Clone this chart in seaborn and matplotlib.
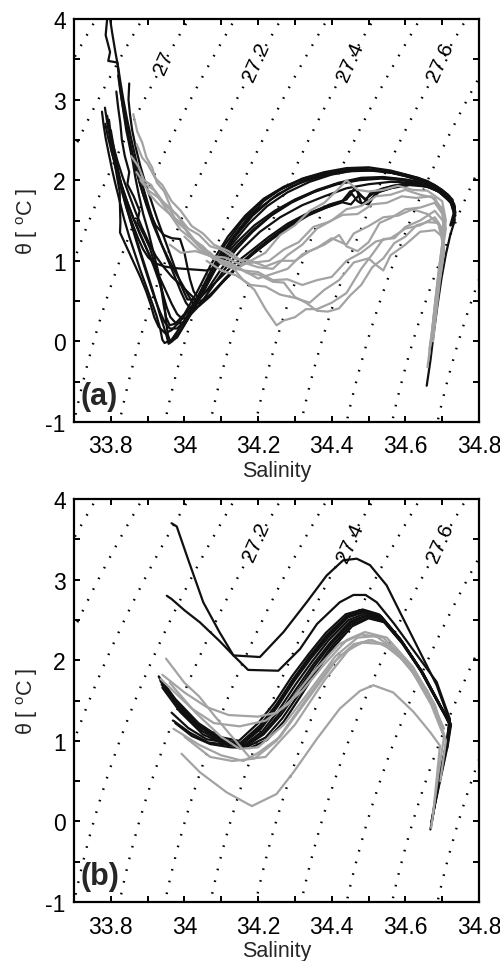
import numpy as np
import pandas as pd
import matplotlib
matplotlib.use("Agg")
import matplotlib.pyplot as plt
from matplotlib.ticker import MultipleLocator, FixedLocator, FixedFormatter
import seaborn as sns

# ------------------------------------------------------------------
# profile data (salinity, potential temperature)
# ------------------------------------------------------------------
# panel (a): CTD profiles, black and grey groups
a_black_sal = [
    [33.790, 33.786, 33.798, 33.793, 33.818, 33.822, 33.828, 33.836, 33.842, 33.852, 33.860, 33.866, 33.876, 33.888, 33.902, 33.915, 33.928, 33.938, 33.946, 33.950, 33.955, 33.962,
     33.980, 34.010, 34.045, 34.085, 34.125, 34.170, 34.215, 34.265, 34.320, 34.380, 34.440, 34.500, 34.560, 34.610, 34.660, 34.700, 34.728, 34.736, 34.726],
    [33.798, 33.804, 33.812, 33.820, 33.826, 33.834, 33.844, 33.856, 33.870, 33.886, 33.904, 33.922, 33.940, 33.958, 33.974, 33.990, 34.004, 34.018,
     34.040, 34.070, 34.105, 34.145, 34.190, 34.240, 34.290, 34.340, 34.390, 34.430, 34.455, 34.470, 34.485, 34.505, 34.540, 34.590, 34.640, 34.690, 34.722, 34.735],
    [33.776, 33.780, 33.786, 33.794, 33.803, 33.812, 33.824, 33.836, 33.850, 33.866, 33.882, 33.898, 33.912, 33.924, 33.934, 33.940, 33.946,
     33.965, 33.995, 34.030, 34.070, 34.110, 34.155, 34.200, 34.250, 34.305, 34.365, 34.425, 34.485, 34.545, 34.600, 34.650, 34.695, 34.724, 34.732, 34.722],
    [33.784, 33.790, 33.798, 33.806, 33.814, 33.820, 33.824, 33.825, 33.826, 33.825, 33.842, 33.862, 33.880, 33.896, 33.908, 33.918, 33.930, 33.948, 33.965,
     33.990, 34.020, 34.055, 34.095, 34.140, 34.190, 34.245, 34.300, 34.360, 34.420, 34.480, 34.540, 34.600, 34.650, 34.695, 34.726, 34.734],
    [33.790, 33.796, 33.806, 33.818, 33.832, 33.848, 33.866, 33.884, 33.902, 33.922, 33.944, 33.966, 33.990, 34.012, 34.030, 34.045,
     34.070, 34.100, 34.140, 34.185, 34.235, 34.285, 34.335, 34.385, 34.425, 34.450, 34.468, 34.480, 34.500, 34.520, 34.560, 34.610, 34.660, 34.700, 34.728, 34.736],
    [33.800, 33.806, 33.813, 33.821, 33.830, 33.840, 33.850, 33.862, 33.875, 33.888, 33.902, 33.920, 33.945, 33.972, 34.000, 34.030, 34.060, 34.085,
     34.110, 34.145, 34.190, 34.240, 34.295, 34.355, 34.415, 34.475, 34.535, 34.595, 34.645, 34.690, 34.722, 34.733, 34.724],
    [33.800, 33.810, 33.820, 33.830, 33.842, 33.856, 33.870, 33.884, 33.898, 33.912, 33.924, 33.934, 33.944, 33.952, 33.957, 33.966,
     33.990, 34.020, 34.055, 34.095, 34.138, 34.185, 34.235, 34.290, 34.350, 34.410, 34.470, 34.530, 34.590, 34.640, 34.685, 34.720, 34.734],
    [33.820, 33.826, 33.834, 33.843, 33.854, 33.866, 33.880, 33.896, 33.914, 33.934, 33.955, 33.975, 33.995, 34.012, 34.025,
     34.045, 34.075, 34.110, 34.150, 34.195, 34.245, 34.295, 34.345, 34.395, 34.440, 34.462, 34.490, 34.520, 34.565, 34.615, 34.665, 34.705, 34.730],
    [33.835, 33.842, 33.851, 33.862, 33.874, 33.888, 33.904, 33.922, 33.944, 33.966, 33.988, 34.000, 34.008, 34.015, 34.025, 34.040,
     34.065, 34.100, 34.140, 34.185, 34.235, 34.290, 34.350, 34.410, 34.470, 34.530, 34.590, 34.640, 34.690, 34.724, 34.734],
    [33.810, 33.822, 33.836, 33.850, 33.866, 33.883, 33.900, 33.916, 33.930, 33.942, 33.952, 33.962, 33.978, 34.000,
     34.030, 34.065, 34.105, 34.150, 34.200, 34.255, 34.315, 34.380, 34.445, 34.505, 34.565, 34.620, 34.670, 34.710, 34.733],
    [33.850, 33.848, 33.852, 33.858, 33.868, 33.880, 33.894, 33.910, 33.926, 33.942, 33.958, 33.972, 33.985, 33.996, 34.008,
     34.030, 34.060, 34.095, 34.135, 34.180, 34.230, 34.280, 34.330, 34.380, 34.425, 34.452, 34.475, 34.500, 34.530, 34.575, 34.625, 34.675, 34.712, 34.734],
    [33.795, 33.800, 33.808, 33.817, 33.828, 33.840, 33.853, 33.867, 33.882, 33.896, 33.910, 33.922, 33.934, 33.946, 33.960, 33.980,
     34.010, 34.045, 34.085, 34.128, 34.175, 34.225, 34.280, 34.340, 34.400, 34.460, 34.520, 34.580, 34.630, 34.675, 34.712, 34.732, 34.734, 34.722, 34.710, 34.698, 34.687, 34.677, 34.668, 34.658],
    [33.785, 33.792, 33.802, 33.814, 33.828, 33.844, 33.860, 33.878, 33.896, 33.914, 33.932, 33.950, 33.966, 33.980, 33.994, 34.010,
     34.035, 34.070, 34.110, 34.155, 34.205, 34.260, 34.320, 34.380, 34.440, 34.500, 34.560, 34.620, 34.670, 34.710, 34.733],
    [33.815, 33.820, 33.826, 33.830, 33.838, 33.850, 33.845, 33.862, 33.878, 33.872, 33.890, 33.906, 33.918, 33.930, 33.938, 33.944, 33.950, 33.960, 33.975,
     34.000, 34.035, 34.075, 34.118, 34.165, 34.215, 34.270, 34.330, 34.395, 34.460, 34.520, 34.580, 34.635, 34.680, 34.716, 34.734, 34.730],
]
a_black_theta = [
    [4.00, 3.80, 3.59, 3.48, 3.46, 3.28, 3.05, 2.80, 2.62, 2.40, 2.22, 2.05, 1.82, 1.58, 1.36, 1.12, 0.88, 0.66, 0.45, 0.25, 0.08, -0.01,
     0.05, 0.28, 0.58, 0.95, 1.25, 1.52, 1.74, 1.90, 2.02, 2.10, 2.15, 2.16, 2.12, 2.06, 1.99, 1.88, 1.76, 1.60, 1.45],
    [4.00, 3.82, 3.60, 3.40, 3.22, 3.00, 2.76, 2.50, 2.22, 1.94, 1.66, 1.40, 1.18, 0.98, 0.80, 0.62, 0.48, 0.40,
     0.44, 0.56, 0.74, 0.93, 1.10, 1.28, 1.45, 1.58, 1.67, 1.74, 1.83, 1.74, 1.70, 1.84, 1.90, 1.95, 1.96, 1.88, 1.76, 1.62],
    [2.85, 2.70, 2.52, 2.34, 2.14, 1.96, 1.74, 1.52, 1.30, 1.08, 0.86, 0.66, 0.48, 0.32, 0.16, 0.02, -0.02,
     0.02, 0.22, 0.50, 0.86, 1.20, 1.48, 1.70, 1.86, 1.98, 2.07, 2.12, 2.14, 2.11, 2.05, 1.98, 1.88, 1.76, 1.60, 1.44],
    [2.90, 2.72, 2.52, 2.32, 2.12, 1.96, 1.86, 1.66, 1.48, 1.35, 1.18, 0.98, 0.80, 0.62, 0.46, 0.30, 0.18, 0.10, 0.14,
     0.26, 0.44, 0.70, 0.98, 1.22, 1.44, 1.62, 1.76, 1.88, 1.97, 2.03, 2.04, 2.01, 1.97, 1.87, 1.74, 1.58],
    [2.80, 2.62, 2.44, 2.24, 2.04, 1.84, 1.62, 1.42, 1.24, 1.06, 0.92, 0.80, 0.70, 0.60, 0.52, 0.50,
     0.58, 0.72, 0.90, 1.08, 1.26, 1.42, 1.56, 1.66, 1.72, 1.86, 1.88, 1.72, 1.70, 1.84, 1.90, 1.94, 1.92, 1.84, 1.72, 1.56],
    [2.62, 2.46, 2.28, 2.10, 1.92, 1.74, 1.58, 1.42, 1.27, 1.14, 1.04, 0.97, 0.93, 0.91, 0.90, 0.89, 0.88, 0.92,
     1.02, 1.20, 1.40, 1.58, 1.74, 1.86, 1.95, 2.00, 2.02, 2.00, 1.95, 1.86, 1.74, 1.58, 1.44],
    [2.40, 2.22, 2.04, 1.86, 1.66, 1.46, 1.26, 1.06, 0.86, 0.66, 0.48, 0.32, 0.18, 0.06, -0.03, 0.00,
     0.14, 0.36, 0.66, 1.00, 1.30, 1.56, 1.76, 1.92, 2.03, 2.10, 2.13, 2.12, 2.07, 2.01, 1.92, 1.80, 1.66],
    [3.30, 3.10, 2.88, 2.66, 2.42, 2.18, 1.94, 1.70, 1.46, 1.24, 1.04, 0.86, 0.70, 0.56, 0.46,
     0.48, 0.60, 0.78, 0.96, 1.14, 1.32, 1.48, 1.60, 1.70, 1.76, 1.90, 1.76, 1.86, 1.93, 1.96, 1.93, 1.82, 1.68],
    [2.90, 2.70, 2.48, 2.26, 2.04, 1.82, 1.62, 1.44, 1.32, 1.28, 1.27, 1.10, 0.92, 0.77, 0.62, 0.52,
     0.66, 0.90, 1.14, 1.36, 1.56, 1.72, 1.85, 1.95, 2.01, 2.03, 2.01, 1.96, 1.86, 1.72, 1.56],
    [2.20, 2.02, 1.84, 1.66, 1.48, 1.30, 1.12, 0.94, 0.76, 0.58, 0.42, 0.30, 0.22, 0.24,
     0.44, 0.76, 1.10, 1.40, 1.64, 1.83, 1.97, 2.06, 2.11, 2.12, 2.09, 2.03, 1.95, 1.84, 1.70],
    [3.20, 3.00, 2.82, 2.62, 2.40, 2.18, 1.96, 1.74, 1.52, 1.32, 1.12, 0.94, 0.78, 0.64, 0.52,
     0.52, 0.62, 0.78, 0.96, 1.12, 1.30, 1.46, 1.58, 1.66, 1.73, 1.70, 1.82, 1.74, 1.86, 1.92, 1.95, 1.90, 1.80, 1.66],
    [2.75, 2.56, 2.36, 2.16, 1.94, 1.72, 1.50, 1.28, 1.06, 0.86, 0.66, 0.50, 0.36, 0.24, 0.16, 0.16,
     0.30, 0.56, 0.90, 1.20, 1.46, 1.68, 1.85, 1.98, 2.07, 2.12, 2.12, 2.08, 2.02, 1.94, 1.82, 1.68, 1.50, 1.32, 1.08, 0.78, 0.44, 0.10, -0.24, -0.55],
    [2.70, 2.54, 2.36, 2.16, 1.96, 1.74, 1.54, 1.34, 1.16, 0.98, 0.80, 0.62, 0.46, 0.34, 0.28, 0.30,
     0.42, 0.64, 0.90, 1.14, 1.36, 1.54, 1.69, 1.80, 1.90, 1.95, 1.98, 1.97, 1.92, 1.82, 1.68],
    [3.10, 2.90, 2.70, 2.50, 2.30, 2.10, 1.95, 1.80, 1.62, 1.48, 1.32, 1.16, 0.98, 0.80, 0.62, 0.44, 0.30, 0.20, 0.22,
     0.34, 0.62, 0.98, 1.30, 1.56, 1.77, 1.92, 2.03, 2.10, 2.14, 2.13, 2.09, 2.03, 1.94, 1.82, 1.68, 1.50],
]

a_gray_sal = [
    [33.861, 33.872, 33.885, 33.897, 33.912, 33.925, 33.945, 33.965, 33.985, 34.010, 34.040, 34.080, 34.130, 34.170, 34.200, 34.240, 34.270, 34.300, 34.330, 34.360, 34.390, 34.420, 34.450, 34.480, 34.510, 34.540, 34.570, 34.600, 34.630, 34.660, 34.690, 34.705, 34.700, 34.690, 34.680, 34.670, 34.664],
    [33.855, 33.875, 33.890, 33.910, 33.930, 33.955, 33.980, 34.010, 34.040, 34.070, 34.100, 34.130, 34.160, 34.190, 34.220, 34.250, 34.270, 34.300, 34.330, 34.360, 34.400, 34.440, 34.480, 34.510, 34.540, 34.570, 34.600, 34.640, 34.680, 34.705, 34.700, 34.690, 34.680, 34.672, 34.665],
    [33.880, 33.900, 33.930, 33.960, 33.990, 34.020, 34.050, 34.080, 34.120, 34.160, 34.200, 34.240, 34.280, 34.320, 34.360, 34.400, 34.440, 34.480, 34.520, 34.560, 34.600, 34.640, 34.680, 34.700, 34.705, 34.695, 34.685, 34.675],
    [33.870, 33.890, 33.920, 33.950, 33.980, 34.010, 34.040, 34.070, 34.100, 34.140, 34.180, 34.220, 34.260, 34.300, 34.340, 34.380, 34.420, 34.440, 34.470, 34.500, 34.530, 34.560, 34.600, 34.640, 34.680, 34.705, 34.700],
    [33.960, 33.990, 34.030, 34.070, 34.110, 34.150, 34.190, 34.230, 34.270, 34.310, 34.350, 34.390, 34.430, 34.470, 34.510, 34.550, 34.590, 34.630, 34.670, 34.700, 34.710, 34.700],
    [33.900, 33.930, 33.960, 33.990, 34.020, 34.060, 34.100, 34.140, 34.180, 34.220, 34.260, 34.300, 34.340, 34.380, 34.420, 34.440, 34.470, 34.500, 34.540, 34.580, 34.620, 34.660, 34.700, 34.710, 34.700, 34.690, 34.680, 34.672, 34.665, 34.660],
    [34.000, 34.040, 34.080, 34.120, 34.160, 34.200, 34.240, 34.280, 34.320, 34.360, 34.400, 34.440, 34.460, 34.500, 34.540, 34.580, 34.620, 34.660, 34.690, 34.700],
    [34.060, 34.100, 34.140, 34.180, 34.220, 34.260, 34.300, 34.340, 34.380, 34.420, 34.460, 34.500, 34.520, 34.540, 34.560, 34.600, 34.640, 34.680, 34.700, 34.705, 34.695],
    [33.870, 33.885, 33.900, 33.920, 33.940, 33.965, 33.990, 34.020, 34.050, 34.080, 34.120, 34.160, 34.200, 34.240, 34.280, 34.320, 34.360, 34.400, 34.440, 34.480, 34.520, 34.560, 34.600, 34.640, 34.680, 34.700, 34.705],
]
a_gray_theta = [
    [2.82, 2.60, 2.47, 2.28, 2.16, 1.97, 1.86, 1.64, 1.54, 1.34, 1.18, 1.02, 0.96, 0.85, 0.83, 0.74, 0.73, 0.55, 0.48, 0.38, 0.37, 0.41, 0.57, 0.70, 0.92, 1.03, 1.22, 1.30, 1.44, 1.48, 1.47, 1.28, 1.05, 0.75, 0.40, 0.05, -0.20],
    [2.30, 2.17, 2.00, 1.94, 1.78, 1.68, 1.48, 1.36, 1.18, 1.10, 0.96, 0.92, 0.76, 0.64, 0.40, 0.20, 0.26, 0.30, 0.40, 0.40, 0.48, 0.60, 0.90, 1.08, 1.27, 1.28, 1.42, 1.50, 1.62, 1.48, 1.20, 0.85, 0.45, 0.10, -0.10],
    [2.00, 1.88, 1.78, 1.58, 1.47, 1.28, 1.18, 1.04, 0.98, 0.88, 0.86, 0.76, 0.77, 0.70, 0.76, 0.80, 1.00, 1.10, 1.24, 1.28, 1.40, 1.44, 1.54, 1.40, 1.15, 0.80, 0.40, 0.00],
    [2.10, 1.96, 1.87, 1.68, 1.57, 1.40, 1.32, 1.18, 1.14, 1.02, 1.00, 0.93, 1.00, 1.00, 1.12, 1.20, 1.32, 1.18, 1.12, 1.23, 1.47, 1.53, 1.64, 1.66, 1.72, 1.55, 1.30],
    [1.20, 1.10, 1.12, 1.06, 1.04, 0.96, 0.98, 1.00, 1.14, 1.23, 1.42, 1.48, 1.57, 1.58, 1.70, 1.72, 1.80, 1.78, 1.80, 1.65, 1.40, 1.10],
    [1.85, 1.70, 1.58, 1.38, 1.27, 1.08, 1.00, 0.90, 1.00, 1.10, 1.32, 1.44, 1.62, 1.72, 1.90, 2.00, 1.88, 1.86, 1.88, 1.93, 1.88, 1.87, 1.74, 1.50, 1.20, 0.85, 0.45, 0.10, -0.15, -0.32],
    [1.30, 1.13, 1.04, 0.92, 0.88, 0.78, 0.84, 0.90, 1.08, 1.16, 1.28, 1.20, 1.34, 1.43, 1.54, 1.56, 1.64, 1.58, 1.45, 1.25],
    [1.00, 0.88, 0.82, 0.70, 0.68, 0.58, 0.54, 0.48, 0.64, 0.76, 0.98, 1.03, 0.95, 0.88, 1.07, 1.20, 1.36, 1.38, 1.30, 1.10, 0.80],
    [2.45, 2.28, 2.20, 2.03, 1.94, 1.74, 1.62, 1.43, 1.34, 1.20, 1.12, 0.98, 0.92, 0.90, 1.07, 1.20, 1.40, 1.50, 1.64, 1.68, 1.80, 1.82, 1.88, 1.82, 1.78, 1.60, 1.35],
]

# panel (b): smoothed profiles
b_black_sal = [
    [33.965, 33.979, 34.010, 34.051, 34.095, 34.133, 34.205, 34.269, 34.332, 34.386, 34.431, 34.468, 34.504, 34.549, 34.585, 34.640, 34.685, 34.720, 34.715, 34.700, 34.685, 34.672],
    [33.952, 33.965, 34.000, 34.042, 34.095, 34.133, 34.173, 34.255, 34.314, 34.360, 34.422, 34.459, 34.492, 34.522, 34.570, 34.613, 34.685, 34.721, 34.717, 34.694, 34.671],
    [33.932, 33.979, 34.042, 34.097, 34.151, 34.205, 34.250, 34.296, 34.340, 34.386, 34.441, 34.486, 34.531, 34.585, 34.640, 34.694, 34.721, 34.712, 34.694, 34.671],
    [33.935, 33.982, 34.045, 34.100, 34.155, 34.208, 34.252, 34.298, 34.343, 34.390, 34.444, 34.490, 34.535, 34.588, 34.642, 34.695, 34.722, 34.710, 34.692],
    [33.930, 33.975, 34.038, 34.094, 34.148, 34.200, 34.246, 34.292, 34.338, 34.384, 34.438, 34.484, 34.528, 34.582, 34.638, 34.692, 34.719, 34.712, 34.695, 34.675],
    [33.938, 33.985, 34.048, 34.104, 34.160, 34.212, 34.256, 34.302, 34.346, 34.392, 34.446, 34.492, 34.537, 34.590, 34.645, 34.697, 34.723, 34.712],
    [33.934, 33.980, 34.044, 34.100, 34.156, 34.206, 34.250, 34.295, 34.341, 34.388, 34.442, 34.488, 34.533, 34.586, 34.641, 34.695, 34.720, 34.709, 34.690],
    [33.940, 33.988, 34.050, 34.108, 34.163, 34.215, 34.260, 34.306, 34.350, 34.396, 34.450, 34.495, 34.540, 34.592, 34.646, 34.698, 34.724, 34.714],
    [33.965, 34.010, 34.060, 34.110, 34.169, 34.215, 34.262, 34.308, 34.352, 34.398, 34.450, 34.494, 34.538, 34.590, 34.644, 34.696, 34.722, 34.712, 34.694],
    [33.970, 34.015, 34.065, 34.118, 34.172, 34.220, 34.266, 34.311, 34.355, 34.400, 34.452, 34.497, 34.541, 34.593, 34.647, 34.698, 34.723],
    [33.975, 34.020, 34.070, 34.125, 34.178, 34.224, 34.270, 34.315, 34.358, 34.403, 34.455, 34.500, 34.544, 34.595, 34.648, 34.699, 34.722, 34.712, 34.695, 34.680, 34.668],
]
b_black_theta = [
    [3.70, 3.66, 3.25, 2.72, 2.35, 2.06, 2.04, 2.35, 2.72, 3.05, 3.24, 3.26, 3.18, 2.93, 2.60, 2.10, 1.69, 1.25, 1.00, 0.70, 0.35, 0.00],
    [2.80, 2.76, 2.62, 2.47, 2.24, 2.06, 1.88, 1.87, 2.14, 2.45, 2.72, 2.81, 2.81, 2.72, 2.45, 2.18, 1.73, 1.27, 1.06, 0.61, -0.01],
    [1.78, 1.48, 1.19, 1.02, 0.97, 1.19, 1.45, 1.77, 2.05, 2.31, 2.55, 2.62, 2.56, 2.27, 1.89, 1.44, 1.23, 0.94, 0.53, 0.00],
    [1.74, 1.44, 1.16, 1.00, 0.95, 1.15, 1.42, 1.74, 2.02, 2.28, 2.53, 2.60, 2.54, 2.25, 1.88, 1.43, 1.22, 0.90, 0.55],
    [1.80, 1.52, 1.22, 1.05, 1.00, 1.22, 1.48, 1.80, 2.08, 2.34, 2.57, 2.63, 2.57, 2.28, 1.90, 1.45, 1.24, 0.95, 0.56, 0.10],
    [1.70, 1.40, 1.12, 0.98, 0.94, 1.12, 1.38, 1.70, 1.98, 2.25, 2.50, 2.58, 2.52, 2.24, 1.86, 1.42, 1.21, 0.92],
    [1.76, 1.46, 1.18, 1.01, 0.96, 1.17, 1.44, 1.76, 2.04, 2.30, 2.54, 2.61, 2.55, 2.26, 1.88, 1.43, 1.22, 0.92, 0.50],
    [1.66, 1.36, 1.08, 0.96, 0.93, 1.10, 1.35, 1.66, 1.95, 2.22, 2.48, 2.56, 2.50, 2.22, 1.85, 1.41, 1.20, 0.91],
    [1.35, 1.16, 1.02, 0.98, 0.94, 1.08, 1.32, 1.62, 1.92, 2.20, 2.46, 2.55, 2.50, 2.22, 1.85, 1.41, 1.20, 0.90, 0.52],
    [1.25, 1.10, 0.98, 0.95, 0.93, 1.04, 1.28, 1.58, 1.88, 2.17, 2.44, 2.53, 2.48, 2.20, 1.84, 1.40, 1.19],
    [1.22, 1.06, 0.96, 0.92, 0.91, 1.01, 1.24, 1.55, 1.86, 2.15, 2.42, 2.52, 2.47, 2.20, 1.84, 1.40, 1.18, 0.88, 0.52, 0.20, -0.10],
]

b_gray_sal = [
    [33.992, 34.042, 34.115, 34.183, 34.250, 34.296, 34.359, 34.422, 34.477, 34.513, 34.567, 34.622, 34.667, 34.694, 34.685, 34.676, 34.670],
    [33.950, 34.000, 34.040, 34.080, 34.120, 34.180, 34.220, 34.300, 34.380, 34.450, 34.500, 34.560, 34.620, 34.670, 34.705, 34.690, 34.675],
    [33.940, 34.000, 34.060, 34.120, 34.200, 34.250, 34.320, 34.380, 34.440, 34.490, 34.550, 34.620, 34.680, 34.710, 34.695],
    [33.935, 34.020, 34.080, 34.150, 34.220, 34.280, 34.350, 34.420, 34.480, 34.540, 34.600, 34.660, 34.705],
    [33.970, 34.040, 34.100, 34.160, 34.200, 34.260, 34.340, 34.420, 34.480, 34.540, 34.600, 34.660, 34.700],
    [33.960, 34.030, 34.100, 34.150, 34.200, 34.270, 34.340, 34.410, 34.470, 34.520, 34.580, 34.640, 34.690],
    [34.000, 34.070, 34.130, 34.190, 34.250, 34.320, 34.400, 34.460, 34.510, 34.570, 34.630, 34.680, 34.710],
]
b_gray_theta = [
    [0.84, 0.61, 0.36, 0.19, 0.34, 0.61, 1.02, 1.40, 1.62, 1.69, 1.60, 1.36, 1.11, 0.94, 0.53, 0.11, -0.08],
    [2.02, 1.72, 1.55, 1.32, 1.10, 0.78, 0.80, 1.20, 1.75, 2.15, 2.25, 2.18, 1.85, 1.45, 1.05, 0.60, 0.10],
    [1.82, 1.60, 1.42, 1.32, 1.30, 1.35, 1.62, 1.95, 2.25, 2.35, 2.28, 1.92, 1.45, 1.00, 0.50],
    [1.77, 1.40, 1.22, 1.18, 1.25, 1.45, 1.85, 2.20, 2.32, 2.28, 2.00, 1.62, 1.15],
    [1.15, 0.95, 0.82, 0.75, 0.85, 1.05, 1.55, 2.05, 2.22, 2.20, 1.98, 1.58, 1.15],
    [1.72, 1.35, 1.05, 0.90, 0.92, 1.20, 1.62, 2.05, 2.28, 2.30, 2.10, 1.75, 1.30],
    [1.05, 0.80, 0.75, 0.78, 1.00, 1.45, 1.95, 2.20, 2.25, 2.12, 1.80, 1.40, 1.00],
]

# isopycnals (sigma-theta) and their labels
isopycnal_levels = [26.5, 26.6, 26.7, 26.8, 26.9, 27.0, 27.1, 27.2, 27.3, 27.4, 27.5, 27.6, 27.7, 27.8, 27.9, 28.0]
a_label_text = ["27", "27.2", "27.4", "27.6"]
a_label_sal = [33.943, 34.196, 34.450, 34.694]
b_label_text = ["27.2", "27.4", "27.6"]
b_label_sal = [34.196, 34.450, 34.694]
label_theta = 3.47

xtick_vals = [33.8, 34.0, 34.2, 34.4, 34.6, 34.8]
xtick_text = ["33.8", "34", "34.2", "34.4", "34.6", "34.8"]
ytick_vals = [-1, 0, 1, 2, 3, 4]
ytick_text = ["-1", "0", "1", "2", "3", "4"]


def sigma0(S, T):
    # UNESCO EOS-80 at surface pressure
    rw = (999.842594 + 6.793952e-2 * T - 9.095290e-3 * T**2 + 1.001685e-4 * T**3
          - 1.120083e-6 * T**4 + 6.536332e-9 * T**5)
    A = 0.824493 - 4.0899e-3 * T + 7.6438e-5 * T**2 - 8.2467e-7 * T**3 + 5.3875e-9 * T**4
    B = -5.72466e-3 + 1.0227e-4 * T - 1.6546e-6 * T**2
    return rw + A * S + B * S**1.5 + 4.8314e-4 * S**2 - 1000.0


def to_frame(sal_lists, theta_lists, tag):
    rows = []
    for k, (ss, tt) in enumerate(zip(sal_lists, theta_lists)):
        for s, t in zip(ss, tt):
            rows.append({"profile": f"{tag}{k}", "sal": s, "theta": t})
    return pd.DataFrame(rows)


sns.set_style("ticks")
plt.rcParams["font.family"] = ["Liberation Sans", "DejaVu Sans"]
plt.rcParams["mathtext.fontset"] = "custom"
plt.rcParams["mathtext.rm"] = "Liberation Sans"

fig = plt.figure(figsize=(5.0, 9.62), dpi=100)
ax_a = fig.add_axes([0.148, 0.5603, 0.81, 0.4189])
ax_b = fig.add_axes([0.148, 0.0613, 0.81, 0.4189])

sg, tg = np.meshgrid(np.linspace(33.6, 34.9, 260), np.linspace(-1.2, 4.2, 260))
sig = sigma0(sg, tg)

panels = [
    (ax_a, a_black_sal, a_black_theta, a_gray_sal, a_gray_theta, a_label_text, a_label_sal, "(a)"),
    (ax_b, b_black_sal, b_black_theta, b_gray_sal, b_gray_theta, b_label_text, b_label_sal, "(b)"),
]

for ax, bs, bt, gs, gt, lt, ls, tag in panels:
    ax.contour(sg, tg, sig, levels=isopycnal_levels, colors="black",
               linewidths=1.7, linestyles=[(0, (0.7, 4.4))])

    black_df = to_frame(bs, bt, "k")
    gray_df = to_frame(gs, gt, "g")
    sns.lineplot(data=black_df, x="sal", y="theta", units="profile", estimator=None,
                 sort=False, color="#101010", linewidth=1.6, ax=ax)
    sns.lineplot(data=gray_df, x="sal", y="theta", units="profile", estimator=None,
                 sort=False, color="#a3a3a3", linewidth=1.6, ax=ax)

    for txt, s in zip(lt, ls):
        ax.text(s, label_theta, txt, rotation=66, ha="center", va="center",
                fontsize=15, color="black")

    ax.text(0.015, 0.065, tag, transform=ax.transAxes, fontsize=22,
            fontweight="bold", ha="left", va="center")

    ax.set_xlim(33.7, 34.8)
    ax.set_ylim(-1, 4)
    ax.xaxis.set_major_locator(FixedLocator(xtick_vals))
    ax.xaxis.set_major_formatter(FixedFormatter(xtick_text))
    ax.yaxis.set_major_locator(FixedLocator(ytick_vals))
    ax.yaxis.set_major_formatter(FixedFormatter(ytick_text))
    ax.xaxis.set_minor_locator(MultipleLocator(0.1))
    ax.yaxis.set_minor_locator(MultipleLocator(0.5))
    ax.tick_params(which="both", direction="in", top=True, right=True,
                   length=4, width=1.4, labelsize=16.5, colors="black")
    ax.tick_params(axis="x", pad=9)
    ax.tick_params(axis="y", pad=6)
    for sp in ax.spines.values():
        sp.set_linewidth(1.6)
        sp.set_color("black")
    ax.set_xlabel("Salinity", fontsize=15.5, labelpad=2)
    ax.set_ylabel(r"θ [ $^{\rm o}$C ]", fontsize=15.5, labelpad=4)

fig.savefig("out.png", dpi=100)
